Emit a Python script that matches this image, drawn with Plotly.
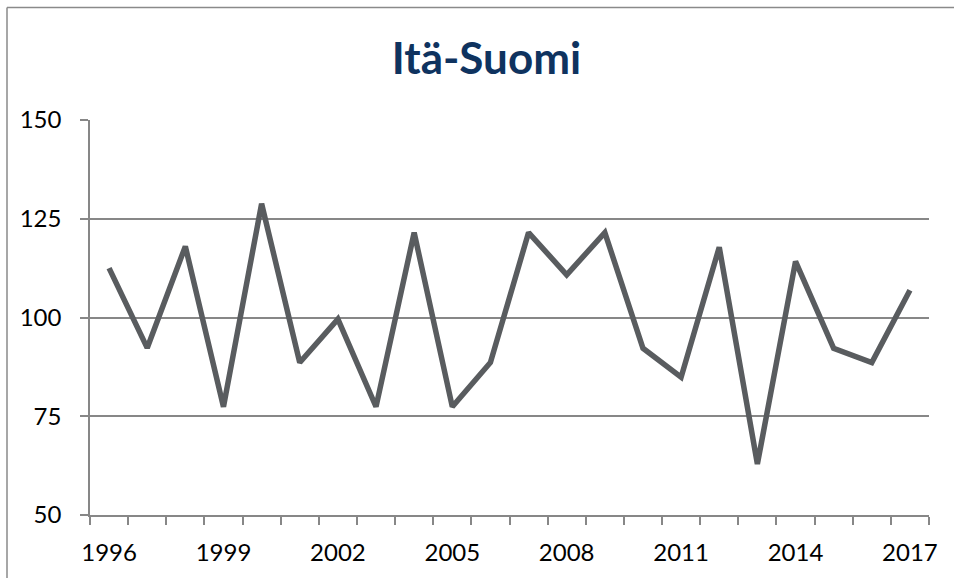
import plotly.graph_objects as go

years = list(range(1996, 2018))
values = [112.5, 92.3, 118.0, 77.4, 128.8, 88.6, 99.6, 77.4, 121.5, 77.4, 88.6,
          121.5, 110.8, 121.5, 92.2, 84.9, 117.8, 62.9, 114.2, 92.2, 88.6, 106.9]
label_years = [1996, 1999, 2002, 2005, 2008, 2011, 2014, 2017]
y_ticks = [50, 75, 100, 125, 150]
title_text = "Itä-Suomi"

GRID = "#878787"
FONT = "Lato"

fig = go.Figure()
fig.add_trace(go.Scatter(
    x=years, y=values, mode="lines",
    line=dict(color="#595c5f", width=5.5),
    hoverinfo="x+y", showlegend=False,
))

fig.update_layout(
    width=954, height=578,
    margin=dict(l=90, r=25, t=120, b=63),
    paper_bgcolor="white", plot_bgcolor="white",
    font=dict(family=FONT, size=24, color="black"),
    title=dict(text=f"<b>{title_text}</b>", x=0.51, xanchor="center",
               y=1 - 58.5 / 578, yanchor="middle", yref="container",
               font=dict(family=FONT, size=44, color="#0f335f")),
    showlegend=False,
)

fig.update_xaxes(
    range=[years[0] - 0.5, years[-1] + 0.5],
    tickmode="array", tickvals=label_years, ticktext=[str(v) for v in label_years],
    ticks="", showgrid=False, zeroline=False,
    showline=True, linecolor=GRID, linewidth=1.5,
    ticklabelstandoff=15,
    minor=dict(tickmode="array", tickvals=[y - 0.5 for y in years] + [years[-1] + 0.5],
               ticks="outside", ticklen=8, tickcolor=GRID, tickwidth=1.5, showgrid=False),
)

fig.update_yaxes(
    range=[y_ticks[0], y_ticks[-1]],
    tickmode="array", tickvals=y_ticks,
    ticks="outside", ticklen=8, tickcolor=GRID, tickwidth=1.5,
    showgrid=True, gridcolor=GRID, gridwidth=1.5, zeroline=False,
    showline=True, linecolor=GRID, linewidth=1.5,
    ticklabelstandoff=14,
)

# outer chart border (left and top edges visible)
bx0 = (7 - 90) / 839
by1 = (515 - 7.5) / 395
fig.add_shape(type="line", xref="paper", yref="paper",
              x0=bx0, x1=bx0, y0=(515 - 580) / 395, y1=by1,
              line=dict(color="#8a8a8a", width=1.5), layer="below")
fig.add_shape(type="line", xref="paper", yref="paper",
              x0=bx0, x1=(956 - 90) / 839, y0=by1, y1=by1,
              line=dict(color="#8a8a8a", width=1.5), layer="below")

fig.write_html("out.html", config={"displayModeBar": False},
               post_script=("document.body.style.margin='0';"
                            "document.body.style.overflow='hidden';"
                            "document.documentElement.style.overflow='hidden';"))
